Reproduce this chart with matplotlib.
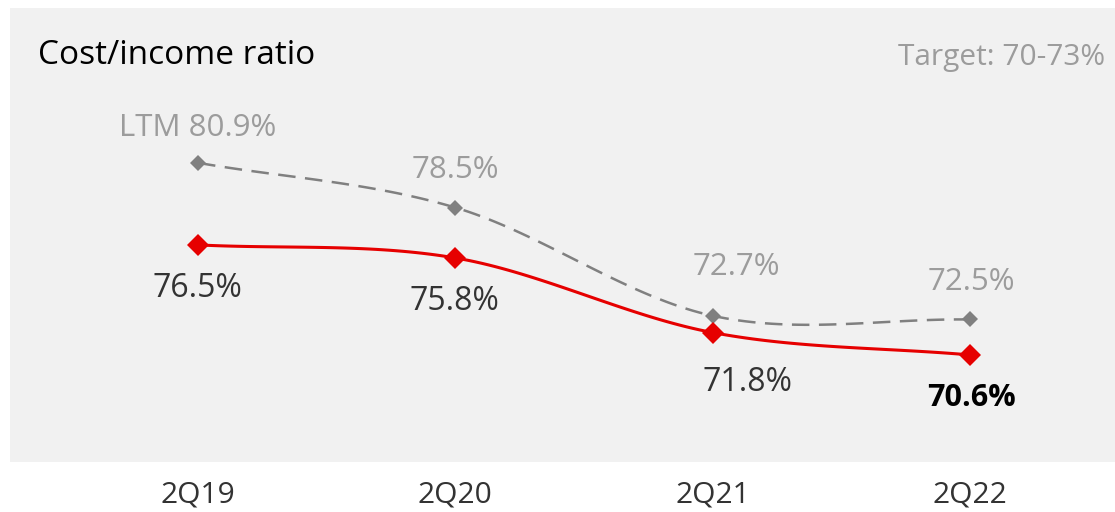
import numpy as np
import matplotlib.pyplot as plt

quarters = ["2Q19", "2Q20", "2Q21", "2Q22"]
reported = [76.5, 75.8, 71.8, 70.6]
ltm = [80.9, 78.5, 72.7, 72.5]
reported_labels = ["76.5%", "75.8%", "71.8%", "70.6%"]
ltm_labels = ["LTM 80.9%", "78.5%", "72.7%", "72.5%"]

RED = "#e60000"
GREY = "#808080"
GREY_TXT = "#9c9c9c"
DARK_TXT = "#333333"

plt.rcParams['font.family'] = ['Open Sans', 'DejaVu Sans']


def smooth(x, y, n=40):
    # Catmull-Rom spline through the points, like a spreadsheet "smoothed line"
    x = np.asarray(x, float)
    y = np.asarray(y, float)
    px = np.concatenate([[2 * x[0] - x[1]], x, [2 * x[-1] - x[-2]]])
    py = np.concatenate([[2 * y[0] - y[1]], y, [2 * y[-1] - y[-2]]])
    xs, ys = [], []
    t = np.linspace(0, 1, n)
    for i in range(1, len(px) - 2):
        for p, out in ((px, xs), (py, ys)):
            p0, p1, p2, p3 = p[i - 1], p[i], p[i + 1], p[i + 2]
            out.append(0.5 * (2 * p1 + (-p0 + p2) * t
                              + (2 * p0 - 5 * p1 + 4 * p2 - p3) * t ** 2
                              + (-p0 + 3 * p1 - 3 * p2 + p3) * t ** 3))
    return np.concatenate(xs), np.concatenate(ys)


fig = plt.figure(figsize=(11.15, 5.12), dpi=100)
ax = fig.add_axes([10 / 1115, 50 / 512, 1105 / 1115, 454 / 512])
ax.set_facecolor("#f1f1f1")
for s in ax.spines.values():
    s.set_visible(False)

x = np.arange(len(quarters))

sx, sy = smooth(x, ltm)
ax.plot(sx, sy, color=GREY, lw=1.8, dashes=(7, 3.8))
ax.plot(x, ltm, 'D', color=GREY, ms=8.5, mew=0)

sx, sy = smooth(x, reported)
ax.plot(sx, sy, color=RED, lw=2.2, solid_capstyle='round')
ax.plot(x, reported, 'D', color=RED, ms=11.5, mew=0)

ltm_off = [(0, 35), (0, 38), (24, 49), (1, 37)]
for xi, v, lab, off in zip(x, ltm, ltm_labels, ltm_off):
    ax.annotate(lab, (xi, v), xytext=off, textcoords='offset pixels',
                ha='center', va='center', fontsize=22.5, color=GREY_TXT)

rep_off = [(-1, -44), (-1, -44), (35, -50), (2, -43)]
for i, (xi, v, lab, off) in enumerate(zip(x, reported, reported_labels, rep_off)):
    bold = i == len(reported) - 1
    ax.annotate(lab, (xi, v), xytext=off, textcoords='offset pixels',
                ha='center', va='center',
                fontsize=22 if bold else 23,
                color='black' if bold else DARK_TXT,
                fontweight='bold' if bold else 'normal')

ax.set_xlim(-0.731, 3.564)
ax.set_ylim(64.86, 89.2)
ax.set_yticks([])
ax.set_xticks(x)
ax.set_xticklabels(quarters, fontsize=21.5, color=DARK_TXT, va='baseline')
# baseline of the quarter labels sits ~41 px under the panel
ax.tick_params(axis='x', length=0, pad=29.5)

ax.text(28 / 1105, 1 - 48 / 454, "Cost/income ratio", transform=ax.transAxes,
        ha='left', va='center', fontsize=24, color='black')
ax.text(1 - 10 / 1105, 1 - 50 / 454, "Target: 70-73%", transform=ax.transAxes,
        ha='right', va='center', fontsize=21.5, color=GREY_TXT)

fig.savefig("out.png", dpi=100)
